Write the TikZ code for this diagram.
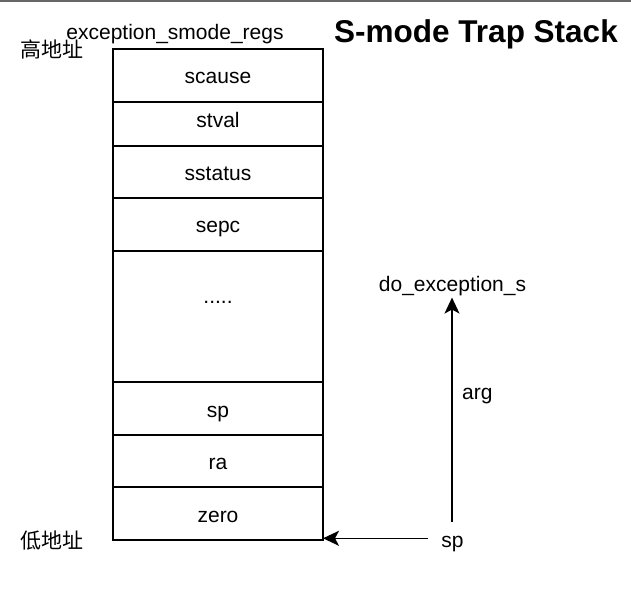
\documentclass[tikz,border=0pt]{standalone}
\usepackage{fontspec}
\setmainfont{Liberation Sans}
\newfontfamily\cjk{Noto Sans CJK SC}
\usepackage{tikz}
\usetikzlibrary{positioning,arrows.meta}
\tikzset{>={Stealth[length=16pt,width=15pt,inset=4pt]}}
\tikzset{
  cell/.style={draw,line width=1.6pt,outer sep=0pt,inner sep=0pt,minimum width=210pt,
    text height=20pt,text depth=3pt,font=\fontsize{21}{25}\selectfont},
  lbl/.style={inner sep=2pt,anchor=base,font=\fontsize{21}{25}\selectfont}
}

\begin{document}
\begin{tikzpicture}[x=1pt,y=-1pt]
    \useasboundingbox (0,0) rectangle (631,593);
    \draw[line width=1.2pt,black!60] (0,1) -- (631,1);
    % stack of saved registers
    \node[cell,minimum height=53pt] (scause) at (218,75.5) {scause};
    \node[cell,minimum height=44pt,text depth=12pt,below=0pt of scause] (stval) {stval};
    \node[cell,minimum height=52pt,below=0pt of stval] (sstatus) {sstatus};
    \node[cell,minimum height=53pt,below=0pt of sstatus] (sepc) {sepc};
    \node[cell,minimum height=131pt,below=0pt of sepc] (more) {};
    \node[lbl] (dots) at ([yshift=-52pt]more.north) {.....};
    \node[cell,minimum height=53pt,below=0pt of more] (sp) {sp};
    \node[cell,minimum height=52pt,below=0pt of sp] (ra) {ra};
    \node[cell,minimum height=53pt,below=0pt of ra] (zero) {zero};
    % labels
    \node[lbl,font=\fontsize{31.5}{37}\selectfont\bfseries] (title) at (476,43) {S-mode Trap Stack};
    \node[lbl] (regs) at (175,40) {exception\_smode\_regs};
    \node[lbl,font=\fontsize{21}{25}\selectfont\cjk] (high) at (52,58) {高地址};
    \node[lbl,font=\fontsize{21}{25}\selectfont\cjk] (low) at (52,548) {低地址};
    \node[lbl] (doexc) at (452.5,291) {do\_exception\_s};
    \node[lbl,anchor=base west] (arg) at (460,399) {arg};
    \node[lbl] (spl) at (452.5,547) {sp};
    % arrows
    \coordinate (argfoot) at (452,521.7);
    \coordinate (spfoot) at (428,538.3);
    \draw[->,line width=1.6pt] (argfoot) -- (argfoot |- doexc.south);
    \draw[->,line width=1.6pt] (spfoot) -- (spfoot -| zero.east);
\end{tikzpicture}
\end{document}
